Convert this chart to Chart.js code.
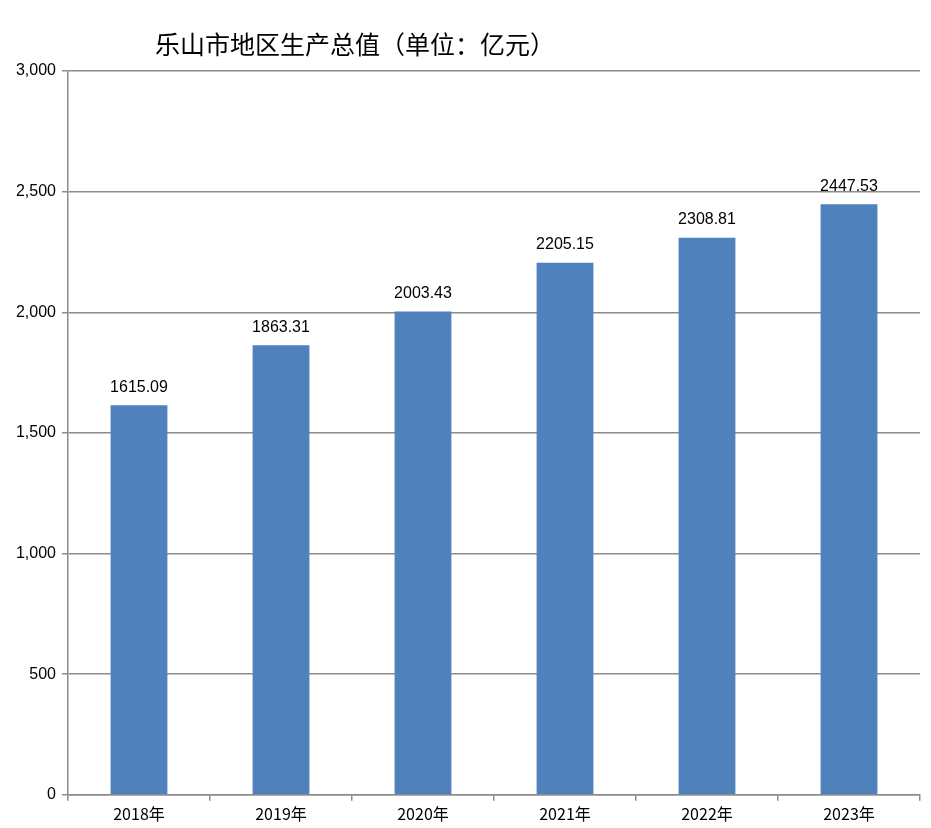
<!DOCTYPE html>
<html>
<head>
<meta charset="utf-8">
<script src="https://cdn.jsdelivr.net/npm/chart.js@4"></script>
<style>
  body { margin: 0; background: #fff; }
  #wrap { position: relative; width: 931px; height: 828px; }
  #title { position: absolute; left: 155px; top: 25px; font: 25px "Noto Sans CJK SC", sans-serif; color: #000; }
</style>
</head>
<body>
<div id="wrap">
  <canvas id="gdpChart" width="931" height="828"></canvas>
  <div id="title">乐山市地区生产总值（单位：亿元）</div>
</div>
<script>
// chart data
const years = ["2018年", "2019年", "2020年", "2021年", "2022年", "2023年"];
const gdp = [1615.09, 1863.31, 2003.43, 2205.15, 2308.81, 2447.53];
const yTicks = [0, 500, 1000, 1500, 2000, 2500, 3000];

// labels above each bar
const valueLabels = {
  id: "valueLabels",
  afterDatasetsDraw(chart) {
    const ctx = chart.ctx;
    const meta = chart.getDatasetMeta(0);
    ctx.save();
    ctx.font = '16px "Liberation Sans", sans-serif';
    ctx.fillStyle = "#000";
    ctx.textAlign = "center";
    ctx.textBaseline = "bottom";
    meta.data.forEach((bar, i) => {
      ctx.fillText(gdp[i].toFixed(2), bar.x, bar.y - 10);
    });
    ctx.restore();
  }
};

new Chart(document.getElementById("gdpChart").getContext("2d"), {
  type: "bar",
  data: {
    labels: years,
    datasets: [{
      data: gdp,
      backgroundColor: "#4f81bd",
      categoryPercentage: 1,
      barPercentage: 0.4
    }]
  },
  options: {
    responsive: false,
    animation: false,
    layout: { padding: { top: 71, right: 11, bottom: 0 } },
    plugins: { legend: { display: false }, tooltip: { enabled: false } },
    scales: {
      y: {
        min: 0, max: 3000,
        afterBuildTicks: (axis) => { axis.ticks = yTicks.map(v => ({ value: v })); },
        afterFit: (axis) => { axis.width = 68; },
        ticks: { color: "#000", font: { size: 16, family: "Liberation Sans" }, padding: 6 },
        grid: { color: "#8c8c8c", lineWidth: 1.5, tickLength: 6 },
        border: { color: "#8c8c8c", width: 1.5 }
      },
      x: {
        ticks: { color: "#000", font: { size: 16, family: "Noto Sans CJK SC" }, padding: 4 },
        grid: { offset: true, drawOnChartArea: false, color: "#8c8c8c", lineWidth: 1.5, tickLength: 6 },
        border: { color: "#8c8c8c", width: 1.5 }
      }
    }
  },
  plugins: [valueLabels]
});
</script>
</body>
</html>
